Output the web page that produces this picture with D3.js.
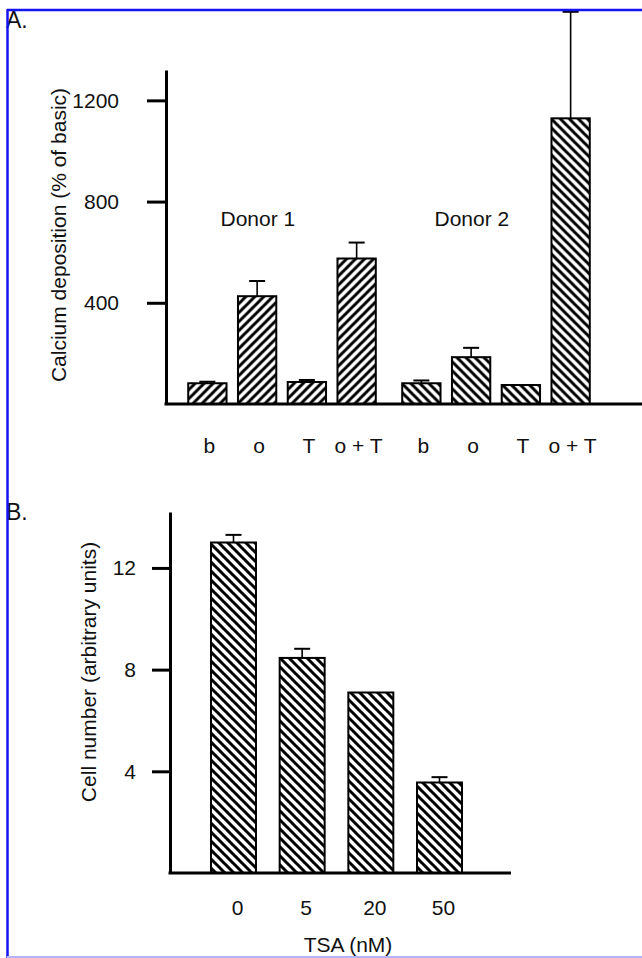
<!DOCTYPE html>
<html>
<head>
<meta charset="utf-8">
<script src="https://cdn.jsdelivr.net/npm/d3@7"></script>
<style>
  body { margin: 0; background: #fff; }
  text { font-family: "Liberation Sans", Arial, sans-serif; fill: #111; }
</style>
</head>
<body>
<div id="chart"></div>
<script>
// panel A - calcium deposition
var conditions = ["b", "o", "T", "o + T"];
var donors = ["Donor 1", "Donor 2"];
var donor1 = [82, 426, 87, 575];
var donor1Err = [6, 60, 8, 63];
var donor2 = [82, 185, 75, 1129];
var donor2Err = [11, 37, 0, 421];
var calciumTicks = [400, 800, 1200];

// panel B - cell number
var tsaDoses = ["0", "5", "20", "50"];
var cellNumber = [13.0, 8.46, 7.1, 3.56];
var cellNumberErr = [0.3, 0.36, 0, 0.21];
var cellTicks = [4, 8, 12];

var w = 642, h = 958;
var fontSize = 21;

var svg = d3.select("#chart")
    .append("svg")
    .attr("width", w)
    .attr("height", h);

// hatch patterns
var defs = svg.append("defs");
function hatch(id, d) {
    defs.append("pattern")
        .attr("id", id)
        .attr("patternUnits", "userSpaceOnUse")
        .attr("width", 9)
        .attr("height", 9)
        .append("path")
        .attr("d", d)
        .attr("stroke", "#000")
        .attr("stroke-width", 3);
}
hatch("hatchUp", "M-1,1 l2,-2 M0,9 l9,-9 M8,10 l2,-2");
hatch("hatchDown", "M-1,8 l2,2 M0,0 l9,9 M8,-1 l2,2");

function errorBars(g, data, x, y, bw) {
    var eb = g.selectAll(".err")
        .data(data.filter(function(d){ return d.err > 0; }))
        .enter()
        .append("g");
    eb.append("line")
        .attr("x1", function(d){ return x(d) + bw / 2; })
        .attr("x2", function(d){ return x(d) + bw / 2; })
        .attr("y1", function(d){ return y(d.value); })
        .attr("y2", function(d){ return y(d.value + d.err); })
        .attr("stroke", "#000")
        .attr("stroke-width", 1.6);
    eb.append("line")
        .attr("x1", function(d){ return x(d) + bw / 2 - 8; })
        .attr("x2", function(d){ return x(d) + bw / 2 + 8; })
        .attr("y1", function(d){ return y(d.value + d.err); })
        .attr("y2", function(d){ return y(d.value + d.err); })
        .attr("stroke", "#000")
        .attr("stroke-width", 2);
}

function styleAxis(g) {
    g.attr("font-size", fontSize)
        .attr("font-family", "'Liberation Sans', Arial, sans-serif");
    g.selectAll("text").attr("fill", "#111");
    g.selectAll("line").attr("stroke-width", 3);
    g.select(".domain").attr("stroke-width", 3);
}

// ---------- panel A ----------
var axisXA = 166;
var yA = d3.scaleLinear().domain([0, 1320]).range([404, 70]);
var outer = d3.scaleBand().domain(donors).range([182.5, 595.5]).paddingInner(0.07);
var inner = d3.scaleBand().domain(conditions).range([0, outer.bandwidth()])
    .paddingInner(0.23).paddingOuter(0.115);

var gA = svg.append("g");

donors.forEach(function(donor, gi){
    var vals = gi ? donor2 : donor1;
    var errs = gi ? donor2Err : donor1Err;
    var data = conditions.map(function(c, i){
        return { cond: c, value: vals[i], err: errs[i] };
    });
    var g = gA.append("g").attr("transform", "translate(" + outer(donor) + ",0)");

    errorBars(g, data, function(d){ return inner(d.cond); }, yA, inner.bandwidth());

    g.selectAll("rect")
        .data(data)
        .enter()
        .append("rect")
        .attr("x", function(d){ return inner(d.cond); })
        .attr("y", function(d){ return yA(d.value); })
        .attr("width", inner.bandwidth())
        .attr("height", function(d){ return yA(0) - yA(d.value); })
        .attr("fill", gi ? "url(#hatchDown)" : "url(#hatchUp)")
        .attr("stroke", "#000")
        .attr("stroke-width", 2);

    g.append("g")
        .attr("transform", "translate(2," + yA(0) + ")")
        .call(d3.axisBottom(inner).tickSize(0).tickPadding(34))
        .call(styleAxis)
        .call(function(a){ a.select(".domain").remove(); });

    gA.append("text")
        .attr("x", outer(donor) + 38)
        .attr("y", 226)
        .attr("font-size", fontSize)
        .text(donor);
});

gA.append("g")
    .attr("transform", "translate(" + axisXA + ",0)")
    .call(d3.axisLeft(yA).tickValues(calciumTicks).tickFormat(d3.format("d"))
        .tickSize(19).tickPadding(28).tickSizeOuter(0))
    .call(styleAxis);

gA.append("line")
    .attr("x1", axisXA - 1.5)
    .attr("x2", w)
    .attr("y1", yA(0))
    .attr("y2", yA(0))
    .attr("stroke", "#000")
    .attr("stroke-width", 3);

gA.append("text")
    .attr("transform", "translate(66," + 235 + ") rotate(-90)")
    .attr("text-anchor", "middle")
    .attr("font-size", fontSize)
    .text("Calcium deposition (% of basic)");

// ---------- panel B ----------
var axisXB = 170;
var yB = d3.scaleLinear().domain([0, 14.2]).range([873, 512]);
var xB = d3.scaleBand().domain(tsaDoses).range([211, 462]).paddingInner(0.345);

var cellData = tsaDoses.map(function(d, i){
    return { dose: d, value: cellNumber[i], err: cellNumberErr[i] };
});

var gB = svg.append("g");

errorBars(gB, cellData, function(d){ return xB(d.dose); }, yB, xB.bandwidth());

gB.selectAll("rect")
    .data(cellData)
    .enter()
    .append("rect")
    .attr("x", function(d){ return xB(d.dose); })
    .attr("y", function(d){ return yB(d.value); })
    .attr("width", xB.bandwidth())
    .attr("height", function(d){ return yB(0) - yB(d.value); })
    .attr("fill", "url(#hatchDown)")
    .attr("stroke", "#000")
    .attr("stroke-width", 2);

gB.append("g")
    .attr("transform", "translate(" + axisXB + ",0)")
    .call(d3.axisLeft(yB).tickValues(cellTicks).tickSize(18).tickPadding(16).tickSizeOuter(0))
    .call(styleAxis);

gB.append("line")
    .attr("x1", axisXB - 1.5)
    .attr("x2", 511)
    .attr("y1", yB(0))
    .attr("y2", yB(0))
    .attr("stroke", "#000")
    .attr("stroke-width", 3);

gB.append("g")
    .attr("transform", "translate(4," + yB(0) + ")")
    .call(d3.axisBottom(xB).tickSize(0).tickPadding(27))
    .call(styleAxis)
    .call(function(a){ a.select(".domain").remove(); });

gB.append("text")
    .attr("transform", "translate(96," + 672 + ") rotate(-90)")
    .attr("text-anchor", "middle")
    .attr("font-size", fontSize)
    .text("Cell number (arbitrary units)");

gB.append("text")
    .attr("x", 348)
    .attr("y", 952)
    .attr("text-anchor", "middle")
    .attr("font-size", fontSize)
    .text("TSA (nM)");

// panel letters
svg.append("text").attr("x", 6).attr("y", 28).attr("font-size", 23).text("A.");
svg.append("text").attr("x", 6).attr("y", 520).attr("font-size", 23).text("B.");

// frame
svg.append("line").attr("x1", 7).attr("x2", w).attr("y1", 10).attr("y2", 10)
    .attr("stroke", "#1414f0").attr("stroke-width", 2.5);
svg.append("line").attr("x1", 7.5).attr("x2", 7.5).attr("y1", 9).attr("y2", h)
    .attr("stroke", "#1414f0").attr("stroke-width", 2.5);
svg.append("line").attr("x1", 7).attr("x2", w).attr("y1", 957).attr("y2", 957)
    .attr("stroke", "#b4b4fa").attr("stroke-width", 2);
</script>
</body>
</html>
